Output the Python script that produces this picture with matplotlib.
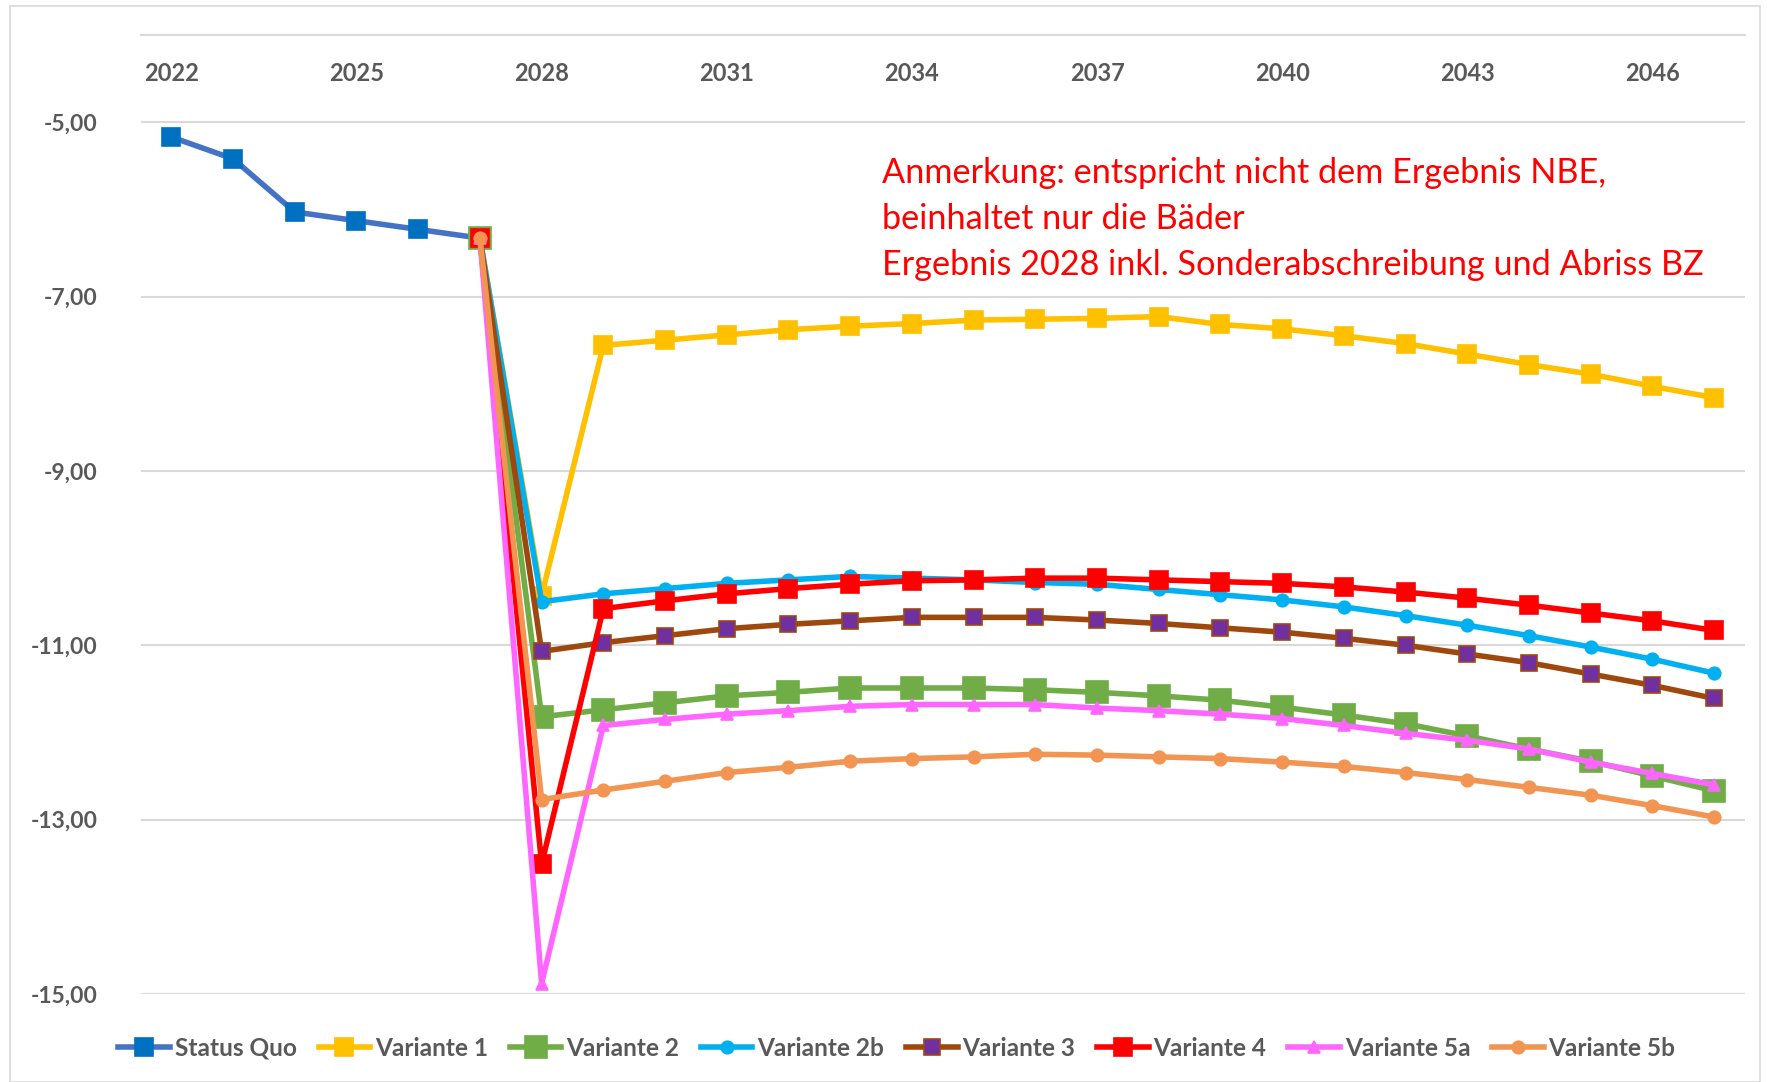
import numpy as np
import matplotlib.pyplot as plt
from matplotlib.patches import Rectangle

years = list(range(2022, 2048))
nan = np.nan

status_quo = [-5.17, -5.42, -6.03, -6.13, -6.23, -6.33] + [nan] * 20

# variants start in 2027 from the last status quo value
pre = [nan] * 5
variante_1 = pre + [-6.33, -10.43, -7.56, -7.50, -7.44, -7.38, -7.34, -7.31, -7.27, -7.26, -7.25,
                    -7.23, -7.32, -7.37, -7.45, -7.54, -7.66, -7.78, -7.89, -8.03, -8.16]
variante_2 = pre + [-6.33, -11.82, -11.74, -11.66, -11.58, -11.54, -11.49, -11.49, -11.49, -11.51, -11.54,
                    -11.58, -11.63, -11.71, -11.80, -11.90, -12.04, -12.19, -12.33, -12.50, -12.67]
variante_2b = pre + [-6.33, -10.50, -10.41, -10.35, -10.29, -10.25, -10.21, -10.23, -10.25, -10.28, -10.30,
                     -10.36, -10.42, -10.48, -10.56, -10.66, -10.77, -10.89, -11.02, -11.16, -11.32]
variante_3 = pre + [-6.33, -11.07, -10.97, -10.89, -10.81, -10.76, -10.72, -10.68, -10.68, -10.68, -10.71,
                    -10.75, -10.80, -10.85, -10.92, -11.00, -11.10, -11.20, -11.33, -11.46, -11.61]
variante_4 = pre + [-6.33, -13.51, -10.58, -10.49, -10.41, -10.35, -10.30, -10.26, -10.25, -10.23, -10.23,
                    -10.25, -10.27, -10.29, -10.33, -10.39, -10.46, -10.54, -10.63, -10.72, -10.83]
variante_5a = pre + [-6.33, -14.88, -11.92, -11.85, -11.79, -11.75, -11.70, -11.68, -11.68, -11.68, -11.72,
                     -11.75, -11.79, -11.84, -11.92, -12.01, -12.09, -12.19, -12.34, -12.47, -12.60]
variante_5b = pre + [-6.33, -12.77, -12.66, -12.56, -12.46, -12.40, -12.33, -12.30, -12.28, -12.25, -12.26,
                     -12.28, -12.30, -12.34, -12.39, -12.46, -12.54, -12.63, -12.72, -12.84, -12.97]

y_ticks = [-5, -7, -9, -11, -13, -15]

# name, values, line colour, marker, marker size, face colour, edge colour
series = [
    ('Status Quo', status_quo, '#4472C4', 's', 13, '#0070C0', '#0070C0'),
    ('Variante 1', variante_1, '#FFC000', 's', 13, '#FFC000', '#FFC000'),
    ('Variante 2', variante_2, '#70AD47', 's', 16, '#70AD47', '#70AD47'),
    ('Variante 2b', variante_2b, '#00B0F0', 'o', 9, '#00B0F0', '#00B0F0'),
    ('Variante 3', variante_3, '#9E480E', 's', 12, '#7030A0', '#9E480E'),
    ('Variante 4', variante_4, '#FF0000', 's', 13, '#FF0000', '#FF0000'),
    ('Variante 5a', variante_5a, '#FF66FF', '^', 8, '#FF66FF', '#FF66FF'),
    ('Variante 5b', variante_5b, '#F29552', 'o', 9, '#F29552', '#F29552'),
]

plt.rcParams['font.family'] = ['Lato', 'DejaVu Sans']
grey = '#595959'

fig = plt.figure(figsize=(17.67, 10.82), dpi=100)
fig.patches.append(Rectangle((10 / 1767, 0.0), 1750 / 1767, 1 - 6 / 1082, transform=fig.transFigure,
                             fill=False, edgecolor='#D9D9D9', linewidth=1.2))

ax = fig.add_axes([140.5 / 1767, 1 - 994 / 1082, 1604.5 / 1767, 959 / 1082])

x = np.arange(len(years))
for name, vals, col, mk, ms, fc, ec in series:
    ax.plot(x, vals, color=col, linewidth=4, marker=mk, markersize=ms,
            markerfacecolor=fc, markeredgecolor=ec, markeredgewidth=1.2, label=name)

ax.set_xlim(-0.5, len(years) - 0.5)
ax.set_ylim(-15, -4)
ax.set_yticks(y_ticks)
ax.set_yticklabels([('%.2f' % v).replace('.', ',') for v in y_ticks])
ax.set_xticks(x[::3])
ax.set_xticklabels([str(y) for y in years[::3]])
ax.xaxis.tick_top()
# category labels sit just below the axis line at the top
ax.tick_params(axis='x', length=0, pad=-27.5, labelsize=17, labelcolor=grey)
ax.tick_params(axis='y', length=0, pad=31, labelsize=16.5, labelcolor=grey)
for lbl in ax.get_xticklabels():
    lbl.set_verticalalignment('center')
for lbl in ax.get_xticklabels() + ax.get_yticklabels():
    lbl.set_fontweight('bold')

ax.grid(axis='y', color='#D9D9D9', linewidth=1.5)
ax.set_axisbelow(True)
for s in ['left', 'right', 'bottom']:
    ax.spines[s].set_visible(False)
ax.spines['top'].set_color('#D9D9D9')
ax.spines['top'].set_linewidth(1.5)

fig.text(882 / 1767, 1 - 157 / 1082,
         'Anmerkung: entspricht nicht dem Ergebnis NBE,\nbeinhaltet nur die Bäder\n'
         'Ergebnis 2028 inkl. Sonderabschreibung und Abriss BZ',
         color='#FF0000', fontsize=24.7, va='top', ha='left', linespacing=1.53)

leg = fig.legend(loc='center', bbox_to_anchor=(897 / 1767, 1 - 1048 / 1082), ncol=8,
                 frameon=False, fontsize=17.6, handlelength=2.1, handletextpad=0.2,
                 columnspacing=0.9)
for t in leg.get_texts():
    t.set_color(grey)
    t.set_fontweight('bold')

fig.savefig('out.png', dpi=100)
